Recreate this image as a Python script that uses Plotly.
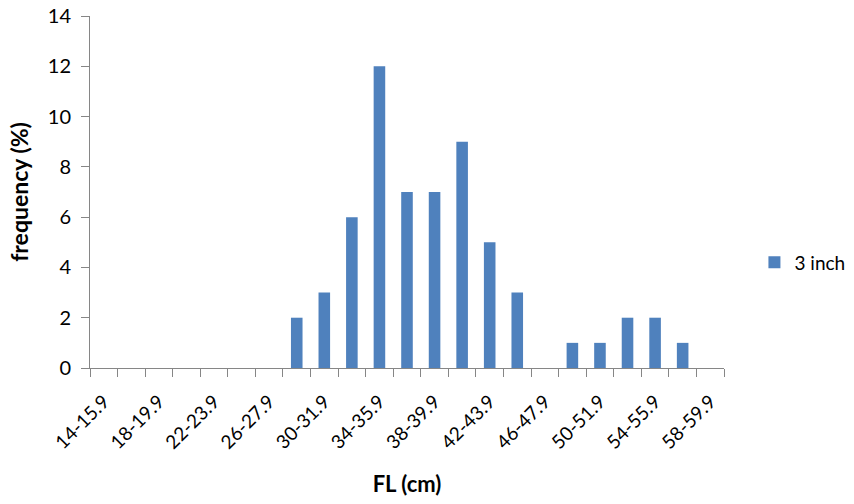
import plotly.graph_objects as go

categories = ["14-15.9", "16-17.9", "18-19.9", "20-21.9", "22-23.9", "24-25.9",
              "26-27.9", "28-29.9", "30-31.9", "32-33.9", "34-35.9", "36-37.9",
              "38-39.9", "40-41.9", "42-43.9", "44-45.9", "46-47.9", "48-49.9",
              "50-51.9", "52-53.9", "54-55.9", "56-57.9", "58-59.9"]
values = [0, 0, 0, 0, 0, 0, 0, 2, 3, 6, 12, 7, 7, 9, 5, 3, 0, 1, 1, 2, 2, 1, 0]
series_name = "3 inch"
y_ticks = [0, 2, 4, 6, 8, 10, 12, 14]

idx = list(range(len(categories)))
font_family = "Lato, 'Open Sans', sans-serif"
axis_color = "#868686"

fig = go.Figure()
fig.add_trace(go.Bar(
    x=idx, y=values, name=series_name,
    marker=dict(color="#4F81BD", line=dict(width=0)),
    showlegend=True,
))

fig.update_layout(
    width=854, height=504,
    margin=dict(l=90, r=130, t=16, b=136, autoexpand=False),
    paper_bgcolor="white", plot_bgcolor="white",
    bargap=0.58,
    font=dict(family=font_family, size=19, color="#000000"),
    showlegend=True,
    legend=dict(x=1.048, y=0.30, xanchor="left", yanchor="middle",
                font=dict(size=19), itemwidth=30, bgcolor="rgba(0,0,0,0)"),
    xaxis=dict(
        range=[-0.5, len(categories) - 0.5],
        automargin=False,
        tickmode="array",
        tickvals=idx[::2],
        ticktext=categories[::2],
        tickangle=-45,
        ticks="",
        ticklabelstandoff=14,
        showline=True, linecolor=axis_color, linewidth=1,
        showgrid=False, zeroline=False,
        tickfont=dict(size=19),
        minor=dict(tickmode="array",
                   tickvals=[i - 0.5 for i in range(len(categories) + 1)],
                   ticks="outside", ticklen=8, tickcolor=axis_color,
                   tickwidth=1, showgrid=False),
        title=dict(text="<b>FL (cm)</b>", font=dict(size=22), standoff=24),
    ),
    yaxis=dict(
        range=[0, 14],
        automargin=False,
        tickmode="array", tickvals=y_ticks,
        ticks="outside", ticklen=8, tickcolor=axis_color, tickwidth=1,
        showline=True, linecolor=axis_color, linewidth=1,
        showgrid=False, zeroline=False,
        tickfont=dict(size=20),
        ticklabelstandoff=6,
        title=dict(text="<b>frequency (%)</b>", font=dict(size=23), standoff=12),
    ),
)

fig.write_html("out.html")
